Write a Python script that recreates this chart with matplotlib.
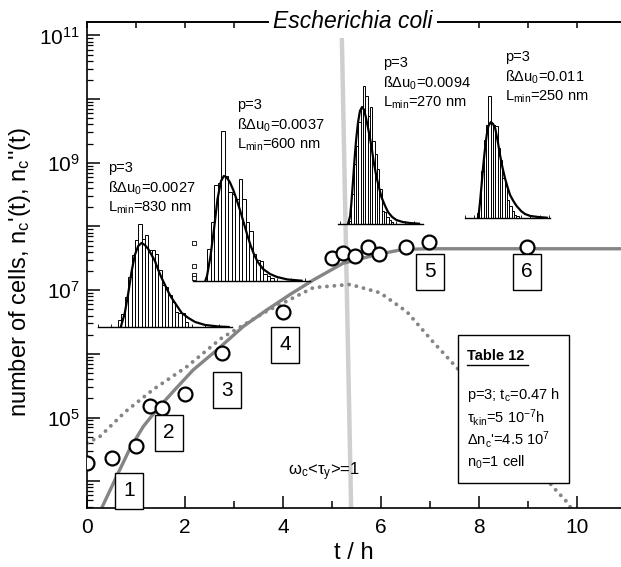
import matplotlib
matplotlib.use("Agg")
import matplotlib.pyplot as plt
import numpy as np
from matplotlib.patches import Rectangle
from matplotlib.ticker import LogLocator, NullFormatter

plt.rcParams["font.family"] = ["Liberation Sans", "DejaVu Sans"]
plt.rcParams["mathtext.default"] = "regular"

# =========================================================
# DATA (n in log10 units)
# =========================================================

# measured cell numbers (open circles)
t_meas = [0.0, 0.5, 1.0, 1.28, 1.53, 2.0, 2.75, 4.0, 5.0, 5.22, 5.47, 5.73, 5.96, 6.51, 6.98, 8.98]
log_meas = [4.29, 4.37, 4.55, 5.18, 5.15, 5.37, 6.02, 6.66, 7.51, 7.59, 7.54, 7.67, 7.57, 7.67, 7.76, 7.68]

# n_c'(t), solid grey curve
t_solid = [0.30, 0.60, 0.88, 1.15, 1.42, 1.76, 2.17, 2.65, 3.19, 3.67, 4.14, 4.62, 5.22, 5.92, 6.45, 7.0, 11.0]
log_solid = [3.58, 4.07, 4.52, 4.86, 5.12, 5.41, 5.75, 6.06, 6.43, 6.69, 6.93, 7.16, 7.42, 7.56, 7.64, 7.65, 7.65]

# n_c''(t), dotted grey curve
t_dot = [0.0, 0.26, 0.78, 1.35, 2.04, 2.75, 3.67, 4.62, 5.37, 5.98, 6.53, 7.06, 7.55, 8.5, 9.51, 9.8, 9.9]
log_dot = [4.60, 4.70, 5.09, 5.44, 5.80, 6.25, 6.67, 7.04, 7.09, 6.96, 6.66, 6.19, 5.78, 4.88, 3.91, 3.67, 3.55]

# omega_c <tau_y> = 1 line
t_vline = [5.20, 5.39]
log_vline = [11.0, 3.58]

# numbered phase labels
phase_labels = ["1", "2", "3", "4", "5", "6"]
t_phase = [0.86, 1.67, 2.86, 4.04, 7.0, 8.98]
log_phase = [3.85, 4.76, 5.43, 6.14, 7.29, 7.29]

# cell length histograms (bin counts) and fitted curves
counts1 = [7, 13, 30, 50, 72, 87, 103, 88, 92, 77, 77, 73, 57, 42, 40, 32, 25, 15, 14, 14, 5]
fit1_x = [0.8, 2, 3, 4, 5, 6, 7, 8, 9, 10, 11, 12, 13, 14, 15, 16, 17, 18, 19, 21, 23, 26, 30, 33]
fit1_y = [0, 14, 33, 55, 72, 81, 84, 82, 78, 72, 66, 57, 49, 42, 35, 29, 24, 19, 14, 9, 5, 2, 0.5, 0]

counts2 = [32, 59, 96, 98, 150, 105, 89, 87, 82, 102, 82, 59, 50, 27, 21, 20, 7, 5, 3]
fit2_x = [-0.5, 0, 1, 2, 3, 4, 4.8, 5.5, 6.5, 7.5, 8.5, 9.5, 10.5, 11.5, 12.5, 13.5, 14.5, 16, 18, 20, 23, 27]
fit2_y = [0, 5, 25, 52, 82, 100, 105, 104, 99, 91, 81, 70, 58, 46, 35, 26, 19, 12, 7, 4, 1.5, 0.3]
marks2_y = [38, 15, 6, 3]

counts3 = [3, 30, 60, 78, 102, 117, 138, 128, 108, 117, 83, 70, 55, 35, 13, 12, 7, 4, 2]
fit3_x = [-0.4, 0.5, 1, 1.7, 2.4, 3.1, 3.9, 4.7, 5.6, 6.5, 7.4, 8.5, 9.6, 10.6, 11.7, 12.8, 13.9, 15.3, 16.7, 18.5, 20.3, 23, 26, 30]
fit3_y = [0, 8, 20, 42, 65, 85, 102, 113, 117, 114, 105, 92, 78, 62, 48, 37, 27, 19, 12, 7, 4, 2, 1, 0.3]

counts4 = [5, 18, 47, 78, 93, 122, 95, 93, 92, 70, 58, 40, 32, 18, 12, 7, 3, 2]
fit4_x = [0.7, 1.4, 2.1, 2.8, 3.6, 4.3, 5, 6.1, 7, 7.9, 9, 10, 11, 12.1, 13.2, 14.3, 15.7, 17.1, 19, 20.7, 23, 26.4, 30]
fit4_y = [0, 15, 33, 52, 70, 83, 92, 96, 94, 90, 77, 63, 51, 40, 31, 23, 17, 12, 7, 4, 2, 1, 0.3]

hist_text1 = ["p=3", "ßΔu$_0$=0.0027", "L$_{min}$=830 nm"]
hist_text2 = ["p=3", "ßΔu$_0$=0.0037", "L$_{min}$=600 nm"]
hist_text3 = ["p=3", "ßΔu$_0$=0.0094", "L$_{min}$=270 nm"]
hist_text4 = ["p=3", "ßΔu$_0$=0.011", "L$_{min}$=250 nm"]

table_lines = ["p=3; t$_c$=0.47 h", "τ$_{kin}$=5 10$^{-7}$h", "Δn$_c$'=4.5 10$^7$", "n$_0$=1 cell"]

# =========================================================
# FIGURE
# =========================================================

W, H = 621, 567
DPI = 100


def fx(px):
    return px / W


def fy(py):
    return 1 - py / H


fig = plt.figure(figsize=(W / DPI, H / DPI), dpi=DPI)
ax = fig.add_axes([fx(87), fy(508), (621 - 87) / W, (508 - 22) / H])

ax.set_yscale("log")
ax.set_xlim(0, 534 / 49)
ax.set_ylim(10 ** 3.58, 10 ** 11.21)

ax.plot(t_vline, 10 ** np.array(log_vline), color="#cfcfcf", lw=3.2, zorder=1)

ax.plot(t_solid, 10 ** np.array(log_solid), color="#858585", lw=2.4, zorder=2,
        solid_capstyle="butt")

ax.plot(t_dot, 10 ** np.array(log_dot), color="#858585", lw=2.8, zorder=2,
        linestyle=(0, (0.01, 1.9)), dash_capstyle="round")

ax.plot(t_meas, 10 ** np.array(log_meas), "o", ms=10, mfc="white", mec="black",
        mew=1.6, zorder=3)

for lab, t, l in zip(phase_labels, t_phase, log_phase):
    ax.text(t, 10 ** l, lab, ha="center", va="center", fontsize=15, zorder=5,
            bbox=dict(boxstyle="square,pad=0.4", fc="white", ec="black", lw=1))

ax.text(4.1, 10 ** 4.15, "ω$_c$<τ$_y$>=1", ha="left", va="center", fontsize=12, zorder=4)

# table box
ax.add_patch(Rectangle((0.695, 0.051), 0.208, 0.305, transform=ax.transAxes,
                       fc="white", ec="black", lw=1, zorder=4))
ax.text(0.712, 0.313, "Table 12", transform=ax.transAxes, fontsize=10.5,
        fontweight="bold", ha="left", va="center", zorder=5)
ax.plot([0.712, 0.826], [0.295, 0.295], transform=ax.transAxes, color="black",
        lw=1, zorder=5)
for k, line in enumerate(table_lines):
    ax.text(0.712, 0.233 - k * 0.046, line, transform=ax.transAxes, fontsize=10.5,
            ha="left", va="center", zorder=5)

# axes styling
ax.spines["right"].set_visible(False)
for s in ["left", "bottom", "top"]:
    ax.spines[s].set_linewidth(1.2)

ax.set_xticks([0, 2, 4, 6, 8, 10])
ax.set_xticks([1, 3, 5, 7, 9], minor=True)
ax.tick_params(axis="x", which="major", direction="in", length=9, width=1.1,
               top=False, labelsize=15, pad=7)
ax.tick_params(axis="x", which="minor", direction="in", length=5, width=1.1, top=False)

ax.set_yticks([10.0 ** e for e in range(4, 12)])
ax.set_yticklabels(["" if e % 2 == 0 else "$10^{%d}$" % e for e in range(4, 12)])
ax.yaxis.set_minor_locator(LogLocator(base=10, subs=np.arange(2, 10), numticks=20))
ax.yaxis.set_minor_formatter(NullFormatter())
ax.tick_params(axis="y", which="major", direction="in", length=9, width=1.1,
               right=False, labelsize=15, pad=5)
ax.tick_params(axis="y", which="minor", direction="in", length=4, width=0.9, right=False)

sec = ax.secondary_xaxis("top")
sec.set_xticks(range(0, 11))
sec.set_xticklabels([])
sec.tick_params(direction="in", length=4, width=1.1)
sec.spines["top"].set_linewidth(1.2)

ax.set_xlabel("t / h", fontsize=17)
ax.xaxis.set_label_coords(0.5, -0.07)
ax.set_ylabel("number of cells, n$_c$'(t), n$_c$''(t)", fontsize=17)
ax.yaxis.set_label_coords(-0.102, 0.486)

fig.text(fx(353), fy(22), "Escherichia coli", ha="center", va="center",
         fontsize=16.5, style="italic", zorder=10,
         bbox=dict(fc="white", ec="none", pad=3))

# =========================================================
# HISTOGRAM INSETS
# =========================================================


def add_hist(left, bottom, width, height, xlim, counts, fit_x, fit_y, text, tx, ty):
    axi = fig.add_axes([fx(left), fy(bottom), width / W, height / H])
    axi.set_facecolor("none")
    idx = np.arange(len(counts))
    axi.bar(idx + 0.5, counts, width=1.0, color="white", edgecolor="black",
            linewidth=0.7)
    axi.plot(fit_x, fit_y, color="black", lw=1.6)
    axi.set_xlim(*xlim)
    axi.set_ylim(0, height)
    for s in ["top", "left", "right"]:
        axi.spines[s].set_visible(False)
    axi.spines["bottom"].set_linewidth(1.0)
    axi.set_xticks(np.arange(np.ceil(xlim[0]), xlim[1], 4))
    axi.tick_params(axis="x", direction="in", length=2, width=0.6, labelbottom=False)
    axi.set_yticks([])
    for k, line in enumerate(text):
        fig.text(fx(tx), fy(ty + 20 * k), line, ha="left", va="center", fontsize=10.5)
    return axi


add_hist(98, 327, 134, 110, (-6, 34), counts1, fit1_x, fit1_y, hist_text1, 108, 168)
ax2 = add_hist(193, 281, 117, 165, (-4, 29.4), counts2, fit2_x, fit2_y, hist_text2, 237, 105)
ax2.plot([-3.7] * len(marks2_y), marks2_y, "s", ms=2.2, mfc="white", mec="black",
         mew=0.6, clip_on=False)
add_hist(338, 224, 85, 145, (-4.7, 31.7), counts3, fit3_x, fit3_y, hist_text3, 383, 63)
add_hist(465, 218, 85, 130, (-5, 31.4), counts4, fit4_x, fit4_y, hist_text4, 505, 57)

fig.savefig("out.png", dpi=DPI)
